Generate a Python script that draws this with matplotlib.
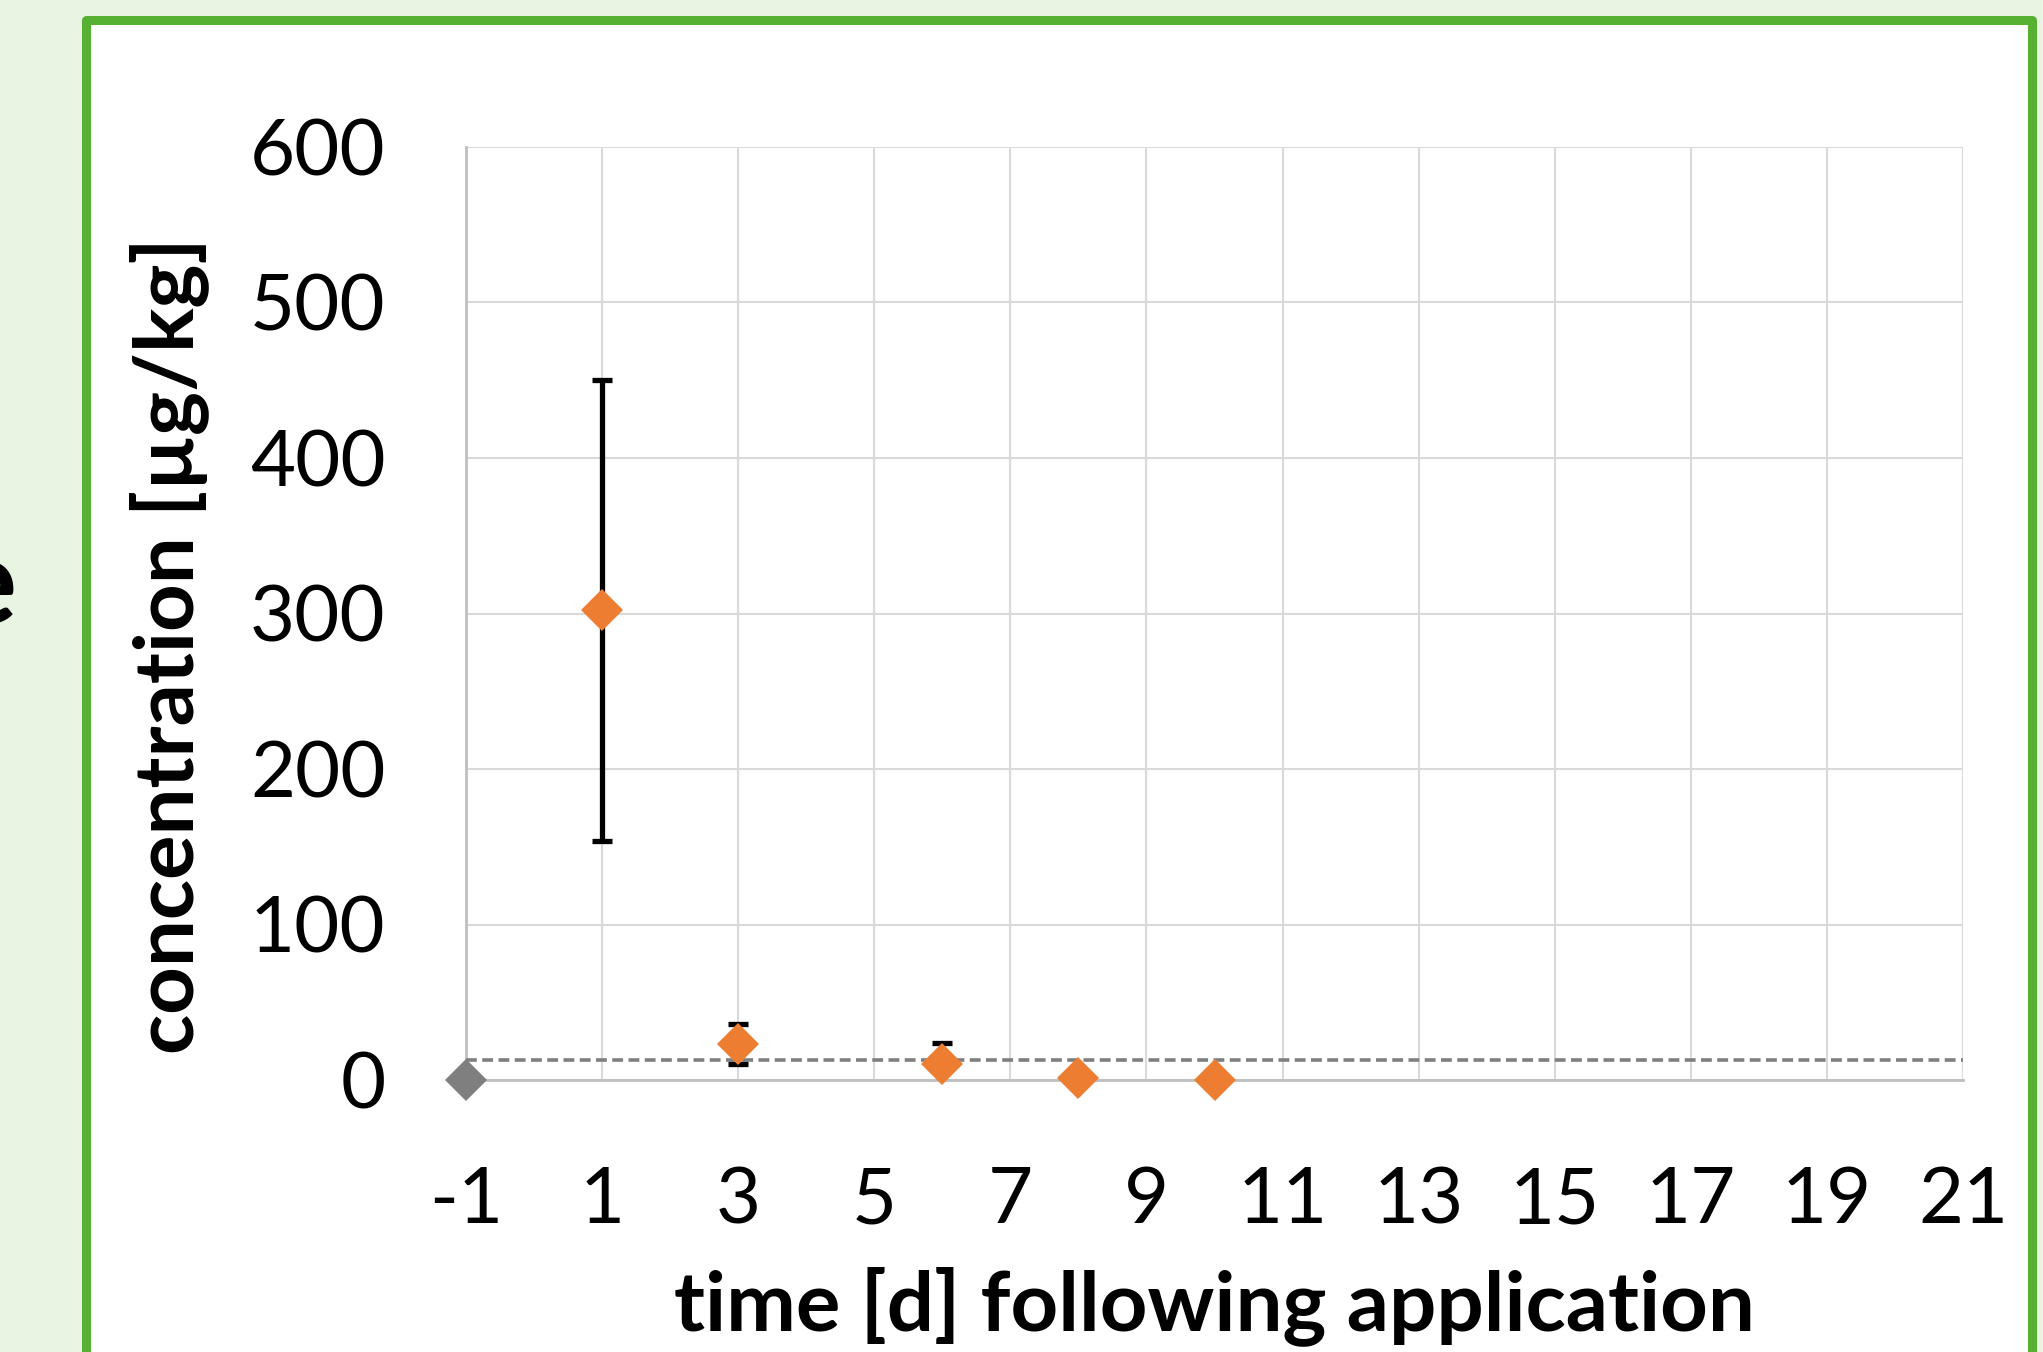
import matplotlib.pyplot as plt
from matplotlib.patches import Rectangle

# data
days = [1, 3, 6, 8, 10]
conc = [302, 23, 10, 1.5, 0]
conc_err = [148, 13, 14, 0, 0]
control_day = [-1]
control_conc = [0]
loq = 13
x_ticks = list(range(-1, 22, 2))
y_ticks = list(range(0, 601, 100))

plt.rcParams['font.family'] = ['Lato', 'DejaVu Sans']
plt.rcParams['axes.unicode_minus'] = False

W, H = 2043, 1352
fig = plt.figure(figsize=(W / 100, H / 100), dpi=100)
fig.patch.set_facecolor('#E8F5E3')

# white panel with green frame (runs off the bottom)
panel = Rectangle((86 / W, -0.05), (2032 - 86) / W, 1.05 - 20 / H,
                  transform=fig.transFigure, facecolor='white',
                  edgecolor='#56B133', linewidth=6.5, joinstyle='round',
                  zorder=-1)
fig.patches.append(panel)

fig.text(16 / W, 1 - 623 / H, 'e', ha='right', va='baseline',
         fontsize=85, fontweight='bold', color='black')

ax = fig.add_axes([466 / W, 1 - 1080 / H, (1963 - 466) / W, (1080 - 147) / H])
ax.set_facecolor('white')

ax.set_xlim(-1, 21)
ax.set_ylim(0, 600)
ax.set_xticks(x_ticks)
ax.set_yticks(y_ticks)
ax.grid(True, color='#D9D9D9', linewidth=1.5)
ax.set_axisbelow(True)
for side in ['top', 'right']:
    ax.spines[side].set_visible(False)
for side in ['left', 'bottom']:
    ax.spines[side].set_color('#BFBFBF')
    ax.spines[side].set_linewidth(2)
ax.tick_params(length=0, labelsize=56, colors='black')
ax.tick_params(axis='y', pad=58)
ax.tick_params(axis='x', pad=62)

ax.axhline(loq, color='#7F7F7F', linewidth=2.6, linestyle=(0, (3, 1.5)), zorder=3)

# error bars clipped to the plot area, like the original
ax.errorbar(days, conc, yerr=conc_err, fmt='none', ecolor='black',
            elinewidth=3.8, capsize=7, capthick=3.8, zorder=4)
ax.plot(days, conc, linestyle='none', marker='D', markersize=21,
        color='#ED7D31', markeredgewidth=0, zorder=5, clip_on=False)
ax.plot(control_day, control_conc, linestyle='none', marker='D', markersize=21,
        color='#7F7F7F', markeredgewidth=0, zorder=5, clip_on=False)

ax.set_xlabel('time [d] following application', fontsize=60, fontweight='bold')
ax.set_ylabel('concentration [µg/kg]', fontsize=60, fontweight='bold')
ax.xaxis.set_label_coords(0.5, -0.2)
ax.yaxis.set_label_coords(-0.172, 0.466)

fig.savefig('out.png', dpi=100, facecolor=fig.get_facecolor())
